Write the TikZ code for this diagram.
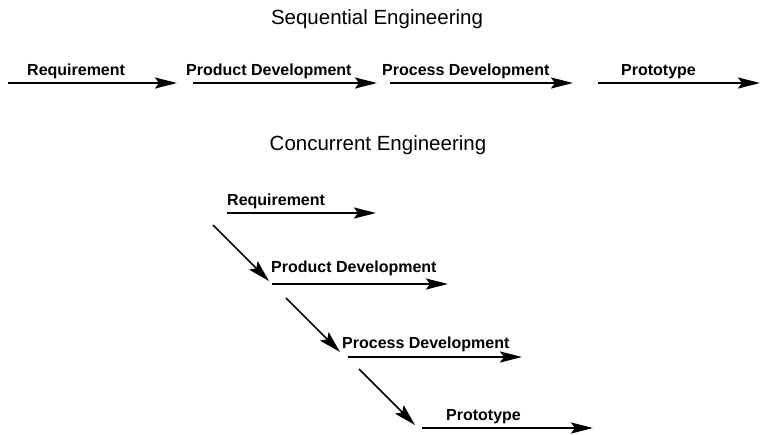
\documentclass[tikz,border=0pt]{standalone}
\usepackage{fontspec}
\setmainfont{Liberation Sans}
\usetikzlibrary{positioning,arrows.meta}

\tikzset{
	stage/.style={-{Stealth[length=22pt,width=11pt,inset=4pt]}, line width=2.2pt},
	link/.style={-{Stealth[length=22pt,width=12pt,inset=4pt]}, line width=1.5pt},
	lbl/.style={anchor=base west, inner sep=0pt, font=\bfseries\fontsize{16}{16}\selectfont},
	ttl/.style={inner sep=0pt, font=\fontsize{20.5}{22}\selectfont}
}

\begin{document}
\begin{tikzpicture}[x=1pt,y=-1pt]
	\useasboundingbox (0,0) rectangle (760,434);

	% sequential
	\node[ttl] (seq) at (377,19) {Sequential Engineering};
	\coordinate (s1) at (8,83);   \coordinate (e1) at (177,83);
	\coordinate (s2) at (193,83); \coordinate (e2) at (377,83);
	\coordinate (s3) at (390,83); \coordinate (e3) at (573,83);
	\coordinate (s4) at (598,83); \coordinate (e4) at (760,83);
	\foreach \i in {1,...,4}
		\draw[stage] (s\i) -- (e\i);
	\node[lbl] (sreq) at (27,75) {Requirement};
	\node[lbl] (sprd) at (186,75) {Product Development};
	\node[lbl] (sprc) at (382,75) {Process Development};
	\node[lbl] (sprt) at (621,75) {Prototype};

	% concurrent
	\node[ttl] (con) at (378,145) {Concurrent Engineering};
	\coordinate (c1) at (227,213); \coordinate (d1) at (376,213);
	\coordinate (c2) at (272,284); \coordinate (d2) at (448,284);
	\coordinate (c3) at (348,357); \coordinate (d3) at (522,357);
	\coordinate (c4) at (422,428); \coordinate (d4) at (593,428);
	\foreach \i in {1,...,4}
		\draw[stage] (c\i) -- (d\i);
	\node[lbl] (creq) at (227,205) {Requirement};
	\node[lbl] (cprd) at (271,272) {Product Development};
	\node[lbl] (cprc) at (342,348) {Process Development};
	\node[lbl] (cprt) at (446,420) {Prototype};

	% hand-over arrows
	\coordinate (h1) at (213,225); \coordinate (g1) at (269,281);
	\coordinate (h2) at (286,298); \coordinate (g2) at (340,352);
	\coordinate (h3) at (359,369); \coordinate (g3) at (415,425);
	\foreach \i in {1,2,3}
		\draw[link] (h\i) -- (g\i);
\end{tikzpicture}
\end{document}
